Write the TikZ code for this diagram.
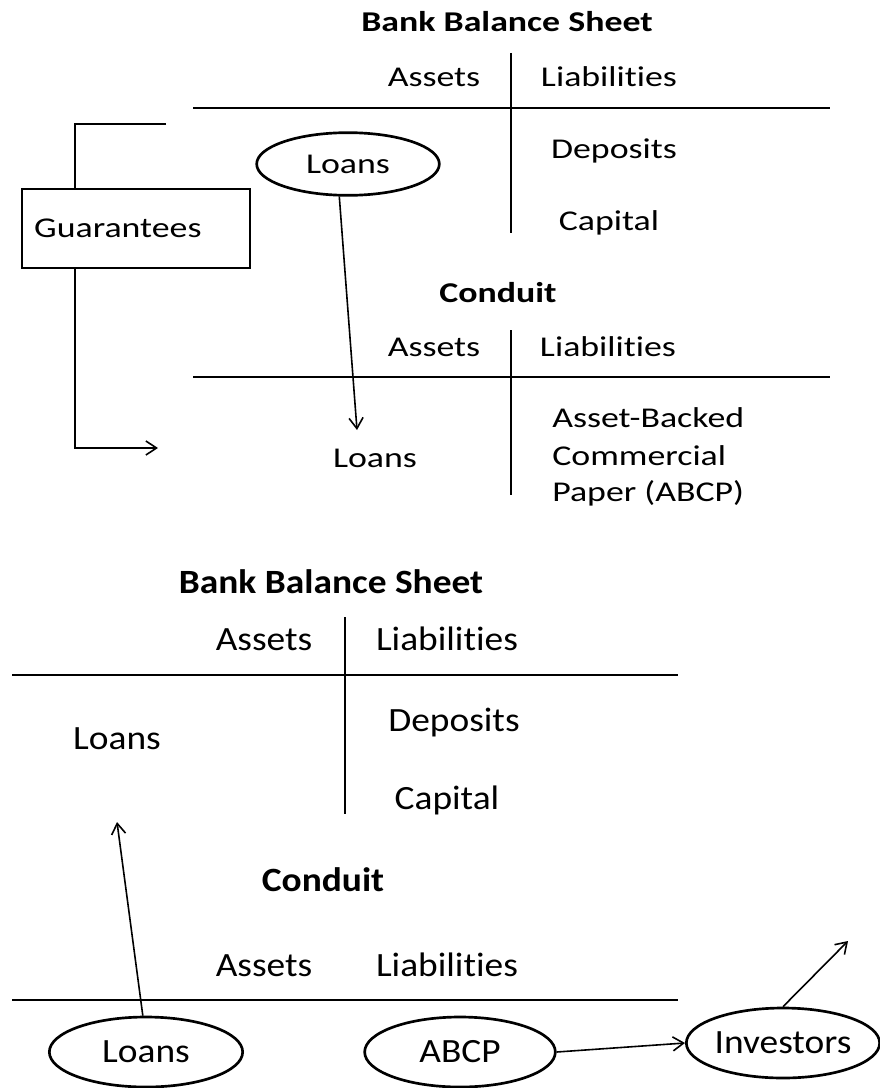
\documentclass[tikz,border=0pt]{standalone}
\usepackage{fontspec}
\setmainfont{Carlito}[Ligatures=NoCommon]
\newfontfamily\upperfont[FakeStretch=1.25,Ligatures=NoCommon]{Carlito}
\newfontfamily\lowerfont[FakeStretch=1.1,Ligatures=NoCommon]{Carlito}
\usetikzlibrary{shapes.geometric,arrows.meta}

\begin{document}
\begin{tikzpicture}[x=0.75pt,y=-0.75pt,
        tline/.style={line width=1.5pt},
        link/.style={line width=1.2pt,-{Straight Barb[length=8pt,width=10.5pt]}},
        upper/.style={font=\upperfont\fontsize{21.5}{26}\selectfont,inner sep=0pt,anchor=base},
        lower/.style={font=\lowerfont\fontsize{25.5}{30}\selectfont,inner sep=0pt,anchor=base},
        oval/.style={draw,ellipse,line width=2pt,inner sep=0pt}]

       \useasboundingbox (0,0) rectangle (880,1088);

       \pgfmathsetmacro{\midTop}{511}
       \pgfmathsetmacro{\midLow}{345}

       %% first picture: bank sheet above conduit
       \node[upper,font=\upperfont\bfseries\fontsize{21.5}{26}\selectfont] (bankA) at (507,32) {Bank Balance Sheet};
       \node[upper] (assetsA) at (434,87) {Assets};
       \node[upper] (liabA) at (609,87) {Liabilities};
       \node[upper] (depA) at (614,158) {Deposits};
       \node[upper] (capA) at (609,230) {Capital};
       \draw[tline] (\midTop,53) -- (\midTop,233);
       \draw[tline] (193,108) -- (830,108);

       \node[oval,upper,anchor=center,minimum width=137pt,minimum height=47pt] (loansA) at (348,164) {Loans};

       \node[draw,line width=1.8pt,upper,anchor=north west,minimum width=171pt,minimum height=59pt,
             inner xsep=9pt,align=left,text width=153pt] (guar) at (21,188) {Guarantees};

       \node[upper,font=\upperfont\bfseries\fontsize{21.5}{26}\selectfont] (condA) at (498,302) {Conduit};
       \node[upper] (assetsB) at (434,356) {Assets};
       \node[upper] (liabB) at (608,356) {Liabilities};
       \draw[tline] (\midTop,330) -- (\midTop,495);
       \draw[tline] (193,377) -- (830,377);
       \node[upper] (loansB) at (375,467) {Loans};
       \node[upper,anchor=base west] (abcpA) at (552,427) {Asset-Backed};
       \node[upper,anchor=base west] (abcpB) at (552,465) {Commercial};
       \node[upper,anchor=base west] (abcpC) at (552,501) {Paper (ABCP)};

       \coordinate (brTop) at (166,124);
       \coordinate (brKnee) at (75,124);
       \coordinate (brEnd) at (158,448);
       \coordinate (loansEnd) at (357,430);

       \draw[line width=1.1pt] (brTop) -- (brKnee) -- (brKnee |- guar.north);
       \draw[link] (brKnee |- guar.south) |- (brEnd);
       \draw[link] (loansA.255) -- (loansEnd);

       %% second picture: loans back on the bank sheet
       \node[lower,font=\lowerfont\bfseries\fontsize{25.5}{30}\selectfont] (bankB) at (331,593) {Bank Balance Sheet};
       \node[lower] (assetsC) at (264,650) {Assets};
       \node[lower] (liabC) at (447,650) {Liabilities};
       \node[lower] (loansC) at (117,749) {Loans};
       \node[lower] (depB) at (454,731) {Deposits};
       \node[lower] (capB) at (447,809) {Capital};
       \draw[tline] (\midLow,617) -- (\midLow,814);
       \draw[tline] (12,675) -- (678,675);

       \node[lower,font=\lowerfont\bfseries\fontsize{25.5}{30}\selectfont] (condB) at (323,891) {Conduit};
       \node[lower] (assetsD) at (264,976) {Assets};
       \node[lower] (liabD) at (447,976) {Liabilities};
       \draw[tline] (12,1000) -- (678,1000);

       \node[oval,lower,anchor=center,minimum width=145pt,minimum height=52.5pt] (loansD) at (146,1052) {Loans};
       \node[oval,lower,anchor=center,minimum width=143pt,minimum height=52.5pt] (abcpD) at (460,1052) {ABCP};
       \node[oval,lower,anchor=center,minimum width=142pt,minimum height=52.5pt] (invest) at (783,1043) {Investors};

       \coordinate (backEnd) at (117,822);
       \coordinate (outEnd) at (848,941);

       \draw[link] (loansD.95) -- (backEnd);
       \draw[link] (abcpD.east) -- (invest.west);
       \draw[link] (invest.north) -- (outEnd);
    \end{tikzpicture}
\end{document}
